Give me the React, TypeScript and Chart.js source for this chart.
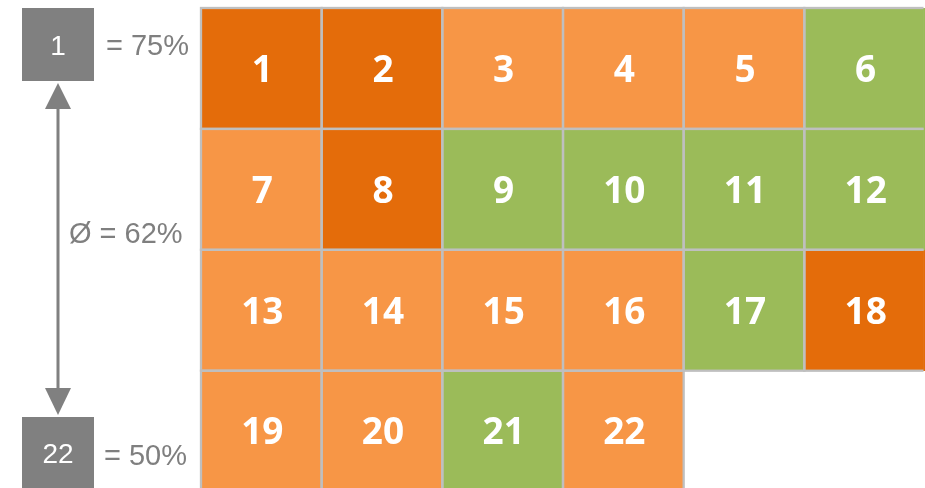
import React, { useEffect, useRef } from "react";
import { Chart, registerables } from "chart.js";

Chart.register(...registerables);

// ---- data ----
const columns = ["1", "2", "3", "4", "5", "6"];
const cellNumbers = [
  [1, 2, 3, 4, 5, 6],
  [7, 8, 9, 10, 11, 12],
  [13, 14, 15, 16, 17, 18],
  [19, 20, 21, 22],
];
const cellGroups = [
  ["A", "A", "B", "B", "B", "C"],
  ["B", "A", "C", "C", "C", "C"],
  ["B", "B", "B", "B", "C", "A"],
  ["B", "B", "C", "B"],
];
const rowCells = [
  [1, 1, 1, 1, 1, 1],
  [1, 1, 1, 1, 1, 1],
  [1, 1, 1, 1, 1, 1],
  [1, 1, 1, 1, null, null],
];
const legendTopId = "1";
const legendTopText = "= 75%";
const legendAvgText = "Ø = 62%";
const legendBottomId = "22";
const legendBottomText = "= 50%";

const groupColors: Record<string, string> = {
  A: "#E46C0A",
  B: "#F79646",
  C: "#9BBB59",
};
const gridColor = "#BFBFBF";
const legendGray = "#808080";
const legendText = "#7F7F7F";

const cellPlugin = {
  id: "cellDecor",
  afterDatasetsDraw(chart: any) {
    const ctx = chart.ctx;
    ctx.save();
    ctx.beginPath();
    ctx.rect(0, 0, chart.width - 1.5, chart.height);
    ctx.clip();
    chart.data.datasets.forEach((ds: any, di: number) => {
      const meta = chart.getDatasetMeta(di);
      meta.data.forEach((el: any, i: number) => {
        if (ds.data[i] == null) return;
        const { x, y, base, width } = el.getProps(["x", "y", "base", "width"], true);
        const left = x - width / 2;
        const top = Math.min(y, base);
        const h = Math.abs(base - y);
        ctx.strokeStyle = gridColor;
        ctx.lineWidth = 2.3;
        ctx.strokeRect(left, top, width, h);
        ctx.fillStyle = "#FFFFFF";
        ctx.font = "bold 37px 'Open Sans'";
        ctx.textAlign = "center";
        ctx.textBaseline = "alphabetic";
        ctx.fillText(String(cellNumbers[di][i]), x + 1, top + 60.5 + 13.2);
      });
    });
    ctx.restore();
  },
  afterDraw(chart: any) {
    const ctx = chart.ctx;
    ctx.save();
    ctx.fillStyle = legendGray;
    ctx.fillRect(22, 8, 72, 73);
    ctx.fillRect(22, 417, 72, 73);
    ctx.fillStyle = "#FFFFFF";
    ctx.font = "28px 'Liberation Sans'";
    ctx.textAlign = "center";
    ctx.textBaseline = "alphabetic";
    ctx.fillText(legendTopId, 58, 55);
    ctx.fillText(legendBottomId, 58, 462.5);
    // arrow
    ctx.strokeStyle = legendGray;
    ctx.fillStyle = legendGray;
    ctx.lineWidth = 3;
    ctx.beginPath();
    ctx.moveTo(58, 108);
    ctx.lineTo(58, 389);
    ctx.stroke();
    ctx.beginPath();
    ctx.moveTo(58, 83);
    ctx.lineTo(71, 109);
    ctx.lineTo(45, 109);
    ctx.closePath();
    ctx.fill();
    ctx.beginPath();
    ctx.moveTo(58, 415);
    ctx.lineTo(71, 388);
    ctx.lineTo(45, 388);
    ctx.closePath();
    ctx.fill();
    // texts
    ctx.fillStyle = legendText;
    ctx.font = "29px 'Liberation Sans'";
    ctx.textAlign = "left";
    ctx.fillText(legendTopText, 106, 55);
    ctx.fillText(legendAvgText, 69, 243);
    ctx.fillText(legendBottomText, 104, 465);
    ctx.restore();
  },
};

export default function App() {
  const ref = useRef<HTMLCanvasElement | null>(null);
  useEffect(() => {
    document.body.style.margin = "0";
    if (!ref.current) return;
    const chart = new Chart(ref.current, {
      type: "bar",
      data: {
        labels: columns,
        datasets: rowCells.map((row, r) => ({
          label: "row" + (r + 1),
          data: row,
          backgroundColor: cellGroups[r].map((g) => groupColors[g]),
          borderWidth: 0,
          barPercentage: 1,
          categoryPercentage: 1,
        })),
      },
      options: {
        animation: false,
        responsive: true,
        maintainAspectRatio: false,
        layout: { padding: { left: 201, top: 8, right: 0, bottom: 0 } },
        plugins: { legend: { display: false }, tooltip: { enabled: false } },
        scales: {
          x: { stacked: true, display: false },
          y: { stacked: true, display: false, reverse: true, min: 0, max: 3.97 },
        },
      },
      plugins: [cellPlugin],
    });
    return () => chart.destroy();
  }, []);
  return (
    <div style={{ position: "fixed", left: 0, top: 0, width: 925, height: 488 }}>
      <canvas ref={ref} />
    </div>
  );
}
